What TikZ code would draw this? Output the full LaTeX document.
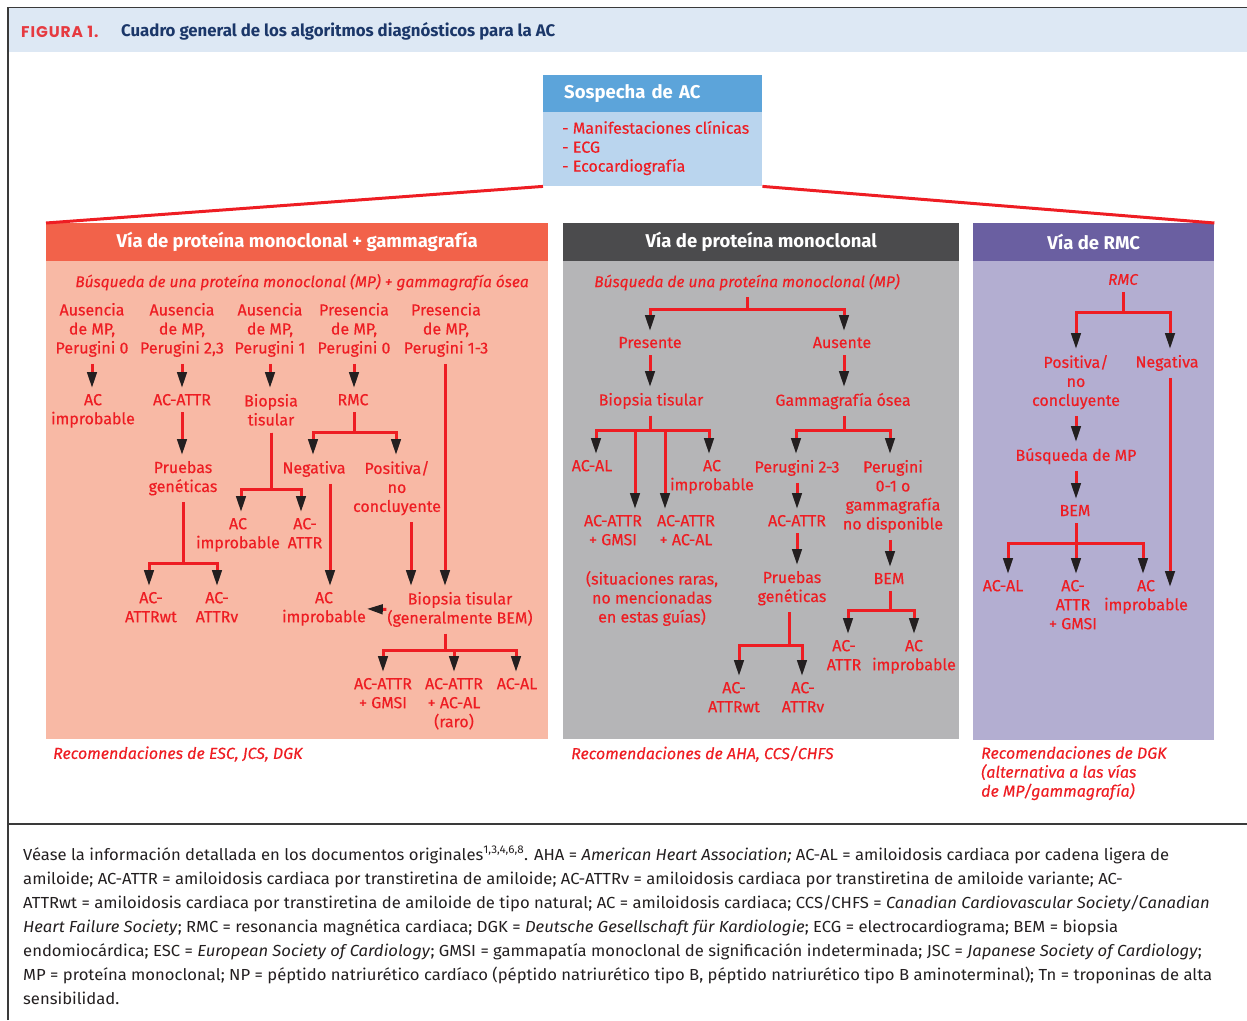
\documentclass[tikz,border=0pt]{standalone}
\usepackage{fontspec}
\setmainfont{Fira Sans}
\newfontfamily\popfont{Poppins}[LetterSpace=6]
\newfontfamily\footfont{Fira Sans}[FakeStretch=1.04]
\newfontfamily\lblfont{Fira Sans}[FakeBold=0.35]
\usetikzlibrary{arrows.meta}
\definecolor{acred}{HTML}{EE1D23}
\definecolor{tipc}{HTML}{231F20}
\definecolor{bandc}{HTML}{DDE8F4}
\definecolor{framec}{HTML}{3A3A3A}
\definecolor{navyc}{HTML}{1B3769}
\definecolor{figred}{HTML}{E63A40}
\definecolor{topHc}{HTML}{5CA4DA}
\definecolor{topBc}{HTML}{BAD5EE}
\definecolor{p1hc}{HTML}{F2624A}
\definecolor{p1bc}{HTML}{F8B9A5}
\definecolor{p2hc}{HTML}{4B4B4D}
\definecolor{p2bc}{HTML}{B5B5B7}
\definecolor{p3hc}{HTML}{6A5FA1}
\definecolor{p3bc}{HTML}{B3AED1}
\definecolor{footc}{HTML}{231F20}
\newcommand\lblf{\lblfont\fontsize{16}{19}\selectfont}
\newcommand\ilblf{\lblfont\fontsize{15.5}{19}\selectfont\itshape}
\newcommand\hdrf{\fontsize{18.5}{21}\selectfont\bfseries}
\newcommand\footf{\footfont\fontsize{16}{24}\selectfont}
\begin{document}
\begin{tikzpicture}[x=1pt,y=-1pt,
  lbl/.style={text=acred, font=\lblf, align=center, inner sep=0pt, outer sep=0pt, anchor=north},
  ilbl/.style={lbl, font=\ilblf},
  arr/.style={draw=acred, line width=3pt, -{Triangle[width=9.5pt,length=16pt,color=tipc]}, shorten >=6pt, shorten <=7pt},
  redln/.style={draw=acred, line width=3pt},
  hdr/.style={anchor=north west, inner sep=0pt, minimum height=38pt, text=white, font=\hdrf},
  body/.style={anchor=north west, inner sep=0pt},
  foot/.style={anchor=base west, inner sep=0pt, text=footc, font=\footf}
]
\useasboundingbox (0,0) rectangle (1247,1020);
% frame
\fill[bandc] (8,8) rectangle (1247,52);
\draw[framec, line width=1.5pt] (8,1020) -- (8,7.5) -- (1247,7.5);
\draw[framec, line width=1.2pt] (8,824) -- (1247,824);
\node[anchor=west, inner sep=0pt, text=figred, font=\popfont\fontsize{15.5}{18}\selectfont\bfseries] (fig) at (21,31.5) {FIGURA 1.};
\node[anchor=west, inner sep=0pt, text=navyc, font=\fontsize{16.8}{19}\selectfont\bfseries] (title) at (121,31) {Cuadro general de los algoritmos diagnósticos para la AC};

% top box
\node[anchor=north west, inner sep=0pt, inner xsep=21pt, fill=topHc, minimum width=219pt, minimum height=37pt, text width=177pt, align=left, text=white, font=\hdrf] (topH) at (543,75) {Sospecha de AC};
\node[anchor=north west, inner sep=0pt, fill=topBc, minimum width=219pt, minimum height=74pt] (topB) at (543,112) {};
\node[anchor=west, inner sep=0pt, align=left, text=acred, font=\lblf] (topT) at (562,148) {- Manifestaciones clínicas\\- ECG\\- Ecocardiografía};

% panels
\node[hdr, fill=p1hc, minimum width=502pt] (p1h) at (46,223) {Vía de proteína monoclonal + gammagrafía};
\node[body, fill=p1bc, minimum width=502pt, minimum height=478pt] (p1b) at (46,261) {};
\node[hdr, fill=p2hc, minimum width=396pt] (p2h) at (563,223) {Vía de proteína monoclonal};
\node[body, fill=p2bc, minimum width=396pt, minimum height=478pt] (p2b) at (563,261) {};
\node[hdr, fill=p3hc, minimum width=241pt] (p3h) at (973,223) {Vía de RMC};
\node[body, fill=p3bc, minimum width=241pt, minimum height=479pt] (p3b) at (973,261) {};

\draw[redln] (topB.south west) -- (p1h.north west);
\draw[redln] (topB.south east) -- (p3h.north east);

% ---------- left panel
\node[ilbl] (L0) at (302,274) {Búsqueda de una proteína monoclonal (MP) + gammagrafía ósea};
\node[lbl] (a1) at (92,303) {Ausencia\\de MP,\\Perugini 0};
\node[lbl] (a2) at (182,303) {Ausencia\\de MP,\\Perugini 2,3};
\node[lbl] (a3) at (270,303) {Ausencia\\de MP,\\Perugini 1};
\node[lbl] (a4) at (354,303) {Presencia\\de MP,\\Perugini 0};
\node[lbl] (a5) at (446,303) {Presencia\\de MP,\\Perugini 1-3};
\node[lbl] (b1) at (93,394) {AC\\improbable};
\node[lbl] (b2) at (182,394) {AC-ATTR};
\node[lbl] (b3) at (271,394) {Biopsia\\tisular};
\node[lbl] (b4) at (353,394) {RMC};
\node[lbl] (c1) at (183,461) {Pruebas\\genéticas};
\node[lbl] (c2) at (314,461) {Negativa};
\node[lbl] (c3) at (397,461) {Positiva/\\no\\concluyente};
\node[lbl] (d1) at (238,518) {AC\\improbable};
\node[lbl] (d2) at (305,518) {AC-\\ATTR};
\node[lbl] (e1) at (151,592) {AC-\\ATTRwt};
\node[lbl] (e2) at (217,592) {AC-\\ATTRv};
\node[lbl] (e3) at (324,592) {AC\\improbable};
\node[lbl] (e4) at (460,592) {Biopsia tisular\\(generalmente BEM)};
\node[lbl] (f1) at (383,678) {AC-ATTR\\+ GMSI};
\node[lbl] (f2) at (454,678) {AC-ATTR\\+ AC-AL\\(raro)};
\node[lbl] (f3) at (517,678) {AC-AL};
\node[anchor=west, inner sep=0pt, text=acred, font=\lblf\itshape] (rec1) at (53,754) {Recomendaciones de ESC, JCS, DGK};

\draw[arr] (a1.south) -- (a1.south |- b1.north);
\draw[arr] (a2.south) -- (a2.south |- b2.north);
\draw[arr] (a3.south) -- (a3.south |- b3.north);
\draw[arr] (a4.south) -- (a4.south |- b4.north);
\draw[arr] (b2.south) -- (b2.south |- c1.north);
\draw[arr] ([xshift=1pt]b4.south) -- ([xshift=1pt]b4.south |- 0,432) -| ([xshift=-1pt]c2.north);
\draw[arr] ([xshift=1pt]b4.south) -- ([xshift=1pt]b4.south |- 0,432) -| ([xshift=-1pt]c3.north);
\draw[arr] (b3.south) -- (b3.south |- 0,489) -| ([xshift=3pt]d1.north);
\draw[arr] (b3.south) -- (b3.south |- 0,489) -| ([xshift=-4pt]d2.north);
\draw[arr] (c1.south) -- (c1.south |- 0,563) -| ([xshift=-2pt]e1.north);
\draw[arr] (c1.south) -- (c1.south |- 0,563) -| (e2.north);
\draw[arr] ([xshift=16pt]c2.south) -- ([xshift=16pt]c2.south |- e3.north);
\draw[arr] ([xshift=14pt]c3.south) -- ([xshift=14pt]c3.south |- e4.north);
\draw[arr] ([xshift=-1pt]a5.south) -- ([xshift=-1pt]a5.south |- e4.north);
\draw[arr, shorten >=1pt, shorten <=1pt] (e4.west) -- (e3.east);
\draw[arr] ([xshift=-15pt]e4.south) -- ([xshift=-15pt]e4.south |- 0,650) -| (f1.north);
\draw[arr] ([xshift=-15pt]e4.south) -- ([xshift=-15pt]e4.south |- 0,650) -| (f2.north);
\draw[arr] ([xshift=-15pt]e4.south) -- ([xshift=-15pt]e4.south |- 0,650) -| ([xshift=-1pt]f3.north);

% ---------- middle panel
\node[ilbl] (m0) at (747,274) {Búsqueda de una proteína monoclonal (MP)};
\node[lbl] (n1) at (650,337) {Presente};
\node[lbl] (n2) at (842,337) {Ausente};
\node[lbl] (o1) at (651,393) {Biopsia tisular};
\node[lbl] (o2) at (843,393) {Gammagrafía ósea};
\node[lbl] (q1) at (592,460) {AC-AL};
\node[lbl] (q2) at (712,460) {AC\\improbable};
\node[lbl] (q3) at (613,515) {AC-ATTR\\+ GMSI};
\node[lbl] (q4) at (686,515) {AC-ATTR\\+ AC-AL};
\node[lbl] (q5) at (652,571) {(situaciones raras,\\no mencionadas\\en estas guías)};
\node[lbl] (r1) at (797,460) {Perugini 2-3};
\node[lbl] (r2) at (893,460) {Perugini\\0-1 o\\gammagrafía\\no disponible};
\node[lbl] (r3) at (797,515) {AC-ATTR};
\node[lbl] (r4) at (792,571) {Pruebas\\genéticas};
\node[lbl] (r5) at (889,573) {BEM};
\node[lbl] (s1) at (734,682) {AC-\\ATTRwt};
\node[lbl] (s2) at (803,682) {AC-\\ATTRv};
\node[lbl] (t1) at (844,640) {AC-\\ATTR};
\node[lbl] (t2) at (914,640) {AC\\improbable};
\node[anchor=west, inner sep=0pt, text=acred, font=\lblf\itshape] (rec2) at (571,754) {Recomendaciones de AHA, CCS/CHFS};

\draw[arr] (m0.south) -- (m0.south |- 0,309) -| (n1.north);
\draw[arr] (m0.south) -- (m0.south |- 0,309) -| ([xshift=2pt]n2.north);
\draw[arr] (n1.south) -- (n1.south |- o1.north);
\draw[arr] ([xshift=2pt]n2.south) -- ([xshift=2pt]n2.south |- o2.north);
\draw[arr] ([xshift=-1pt]o1.south) -- ([xshift=-1pt]o1.south |- 0,430) -| ([xshift=4pt]q1.north);
\draw[arr] ([xshift=-1pt]o1.south) -- ([xshift=-1pt]o1.south |- 0,430) -| ([xshift=-3pt]q2.north);
\draw[arr] ([xshift=-1pt]o1.south) -- ([xshift=-1pt]o1.south |- 0,430) -| ([xshift=22pt]q3.north);
\draw[arr] ([xshift=-1pt]o1.south) -- ([xshift=-1pt]o1.south |- 0,430) -| ([xshift=-21pt]q4.north);
\draw[arr] ([xshift=1pt]o2.south) -- ([xshift=1pt]o2.south |- 0,430) -| ([xshift=-1pt]r1.north);
\draw[arr] ([xshift=1pt]o2.south) -- ([xshift=1pt]o2.south |- 0,430) -| ([xshift=-3pt]r2.north);
\draw[arr] (r1.south) -- (r1.south |- r3.north);
\draw[arr] (r3.south) -- (r3.south |- r4.north);
\draw[arr] ([xshift=-3pt]r4.south) -- ([xshift=-3pt]r4.south |- 0,645) -| ([xshift=5pt]s1.north);
\draw[arr] ([xshift=-3pt]r4.south) -- ([xshift=-3pt]r4.south |- 0,645) -| ([xshift=-1pt]s2.north);
\draw[arr] ([xshift=-3pt]r2.south) -- ([xshift=-3pt]r2.south |- r5.north);
\draw[arr] ([xshift=1pt]r5.south) -- ([xshift=1pt]r5.south |- 0,610) -| ([xshift=4pt]t1.north);
\draw[arr] ([xshift=1pt]r5.south) -- ([xshift=1pt]r5.south |- 0,610) -| (t2.north);

% ---------- right panel
\node[ilbl] (u0) at (1123,274) {RMC};
\node[lbl] (v1) at (1076,355) {Positiva/\\no\\concluyente};
\node[lbl] (v2) at (1167,355) {Negativa};
\node[lbl] (w1) at (1076,448) {Búsqueda de MP};
\node[lbl] (w2) at (1075,505) {BEM};
\node[lbl] (x1) at (1003,580) {AC-AL};
\node[lbl] (x2) at (1073,580) {AC-\\ATTR\\+ GMSI};
\node[lbl] (x3) at (1146,580) {AC\\improbable};
\coordinate (negend) at (1170,593);
\node[anchor=north west, inner sep=0pt, text=acred, align=left, font=\lblf\itshape] (rec3) at (981,746) {Recomendaciones de DGK\\(alternativa a las vías\\de MP/gammagrafía)};

\draw[arr] (u0.south) -- (u0.south |- 0,312) -| (v1.north);
\draw[arr] (u0.south) -- (u0.south |- 0,312) -| ([xshift=3pt]v2.north);
\draw[arr] (v1.south) -- (v1.south |- w1.north);
\draw[arr] (w1.south) -- (w1.south |- w2.north);
\draw[arr] ([xshift=1pt]w2.south) -- ([xshift=1pt]w2.south |- 0,543) -| ([xshift=5pt]x1.north);
\draw[arr] ([xshift=1pt]w2.south) -- ([xshift=1pt]w2.south |- 0,543) -| ([xshift=3pt]x2.north);
\draw[arr] ([xshift=1pt]w2.south) -- ([xshift=1pt]w2.south |- 0,543) -| ([xshift=-3pt]x3.north);
\draw[arr] ([xshift=3pt]v2.south) -- ([xshift=3pt]v2.south |- negend);

% ---------- footer
\node[foot] (ft1) at (23,860) {Véase la información detallada en los documentos originales\textsuperscript{1,3,4,6,8}. AHA = \textit{American Heart Association;} AC-AL = amiloidosis cardiaca por cadena ligera de};
\node[foot] (ft2) at (23,884) {amiloide; AC-ATTR = amiloidosis cardiaca por transtiretina de amiloide; AC-ATTRv = amiloidosis cardiaca por transtiretina de amiloide variante; AC-};
\node[foot] (ft3) at (23,908) {ATTRwt = amiloidosis cardiaca por transtiretina de amiloide de tipo natural; AC = amiloidosis cardiaca; CCS/CHFS = \textit{Canadian Cardiovascular Society/Canadian}};
\node[foot] (ft4) at (23,932) {\textit{Heart Failure Society}; RMC = resonancia magnética cardiaca; DGK = \textit{Deutsche Gesellschaft für Kardiologie}; ECG = electrocardiograma; BEM = biopsia};
\node[foot] (ft5) at (23,956) {endomiocárdica; ESC = \textit{European Society of Cardiology}; GMSI = gammapatía monoclonal de significación indeterminada; JSC = \textit{Japanese Society of Cardiology};};
\node[foot] (ft6) at (23,980) {MP = proteína monoclonal; NP = péptido natriurético cardíaco (péptido natriurético tipo B, péptido natriurético tipo B aminoterminal); Tn = troponinas de alta};
\node[foot] (ft7) at (23,1004) {sensibilidad.};
\end{tikzpicture}
\end{document}
